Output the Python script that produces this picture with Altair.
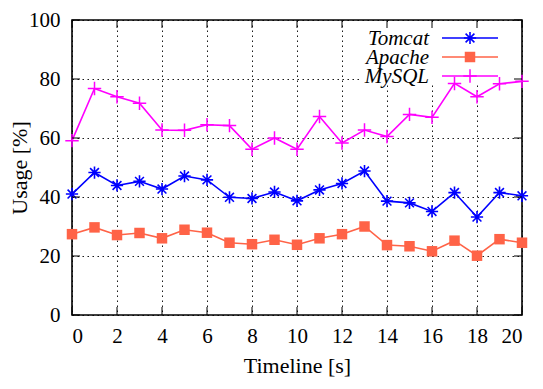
import altair as alt
import pandas as pd

t = list(range(21))
tomcat = [41.0, 48.3, 43.9, 45.3, 42.7, 47.1, 45.8, 39.9, 39.5, 41.7, 38.7,
          42.4, 44.6, 48.8, 38.6, 38.0, 35.1, 41.5, 33.2, 41.5, 40.4]
apache = [27.4, 29.7, 27.1, 27.8, 26.0, 28.9, 27.9, 24.5, 24.0, 25.5, 23.8,
          26.0, 27.4, 30.0, 23.7, 23.3, 21.6, 25.2, 20.1, 25.7, 24.5]
mysql = [59.1, 76.8, 74.0, 71.8, 62.7, 62.6, 64.5, 64.2, 56.2, 60.0, 56.2,
         67.3, 58.3, 62.7, 60.5, 68.0, 67.0, 78.5, 74.0, 78.4, 79.2]
series = ["Tomcat", "Apache", "MySQL"]
colors = ["#0000ff", "#ff6347", "#ff00ff"]
xticks = list(range(0, 21, 2))
yticks = list(range(0, 101, 20))

W, H = 450, 295
FONT = "Liberation Serif"

df = pd.DataFrame({"t": t * 3,
                   "v": tomcat + apache + mysql,
                   "s": [series[0]] * 21 + [series[1]] * 21 + [series[2]] * 21})

xs = alt.Scale(domain=[0, 20], nice=False)
ys = alt.Scale(domain=[0, 100], nice=False)

grid_dash = [1.5, 3.5]
xaxis = alt.Axis(values=xticks, tickSize=0, domain=False, grid=True, gridColor="#000",
                 gridDash=grid_dash, gridWidth=1, gridOpacity=0.9, labelFont=FONT, labelFontSize=21,
                 labelColor="#000", labelPadding=10, title="Timeline [s]", titleFont=FONT,
                 titleFontSize=22, titleFontWeight="normal", titleColor="#000", titlePadding=9)
yaxis = alt.Axis(values=yticks, tickSize=0, domain=False, grid=True, gridColor="#000",
                 gridDash=grid_dash, gridWidth=1, gridOpacity=0.9, labelFont=FONT, labelFontSize=21,
                 labelColor="#000", labelPadding=12, title="Usage [%]", titleFont=FONT,
                 titleFontSize=22, titleFontWeight="normal", titleColor="#000",
                 titleX=-41, titleY=H / 2)

base = alt.Chart(df)
gridlayer = base.mark_point(opacity=0).encode(
    x=alt.X("t:Q", scale=xs, axis=xaxis), y=alt.Y("v:Q", scale=ys, axis=yaxis))

# legend box (opaque key background)
leg_rect = alt.Chart(pd.DataFrame({"a": [0]})).mark_rect(color="white").encode(
    x=alt.value(290), x2=alt.value(448), y=alt.value(4), y2=alt.value(65))

star = "M-1,0L1,0M0,-1L0,1M-0.72,-0.72L0.72,0.72M-0.72,0.72L0.72,-0.72"
plus = "M-1,0L1,0M0,-1L0,1"

layers = [gridlayer, leg_rect]
marker_specs = [
    dict(shape=star, filled=False, size=150, strokeWidth=1.6),
    dict(shape="square", filled=True, size=110, strokeWidth=0),
    dict(shape=plus, filled=False, size=180, strokeWidth=1.5),
]
for name, col, ms in zip(series, colors, marker_specs):
    d = base.transform_filter(alt.datum.s == name)
    layers.append(d.mark_line(color=col, strokeWidth=1.6).encode(
        x=alt.X("t:Q", scale=xs), y=alt.Y("v:Q", scale=ys)))
    layers.append(d.mark_point(color=col, opacity=1, **ms).encode(
        x=alt.X("t:Q", scale=xs), y=alt.Y("v:Q", scale=ys)))

# legend entries
rows_y = [18, 37, 56]
for name, col, ms, ry in zip(series, colors, marker_specs, rows_y):
    one = alt.Chart(pd.DataFrame({"s": [name]}))
    layers.append(one.mark_text(font=FONT, fontSize=21, fontStyle="italic", align="right",
                                baseline="middle", color="#000", dy=1).encode(
        text="s:N", x=alt.value(357), y=alt.value(ry)))
    layers.append(one.mark_rule(color=col, strokeWidth=1.6).encode(
        x=alt.value(370), x2=alt.value(426), y=alt.value(ry)))
    layers.append(one.mark_point(color=col, opacity=1, **ms).encode(
        x=alt.value(398), y=alt.value(ry)))

# inward ticks on all four sides
TL = 8
xt = alt.Chart(pd.DataFrame({"x": xticks}))
yt = alt.Chart(pd.DataFrame({"y": yticks}))
layers.append(xt.mark_rule(color="#000", strokeWidth=1).encode(
    x=alt.X("x:Q", scale=xs), y=alt.value(H), y2=alt.value(H - TL)))
layers.append(xt.mark_rule(color="#000", strokeWidth=1).encode(
    x=alt.X("x:Q", scale=xs), y=alt.value(0), y2=alt.value(TL)))
layers.append(yt.mark_rule(color="#000", strokeWidth=1).encode(
    y=alt.Y("y:Q", scale=ys), x=alt.value(0), x2=alt.value(TL)))
layers.append(yt.mark_rule(color="#000", strokeWidth=1).encode(
    y=alt.Y("y:Q", scale=ys), x=alt.value(W), x2=alt.value(W - TL)))

chart = alt.layer(*layers).properties(
    width=W, height=H,
    autosize=alt.AutoSizeParams(type="none"),
    padding={"left": 64, "top": 12, "right": 13, "bottom": 66},
).configure(background="white", font=FONT).configure_view(
    stroke="#000", strokeWidth=1.6
).configure_axis(labelFont=FONT, titleFont=FONT).configure_text(font=FONT)

chart.save("out.html", embed_options={"renderer": "svg", "actions": False})
